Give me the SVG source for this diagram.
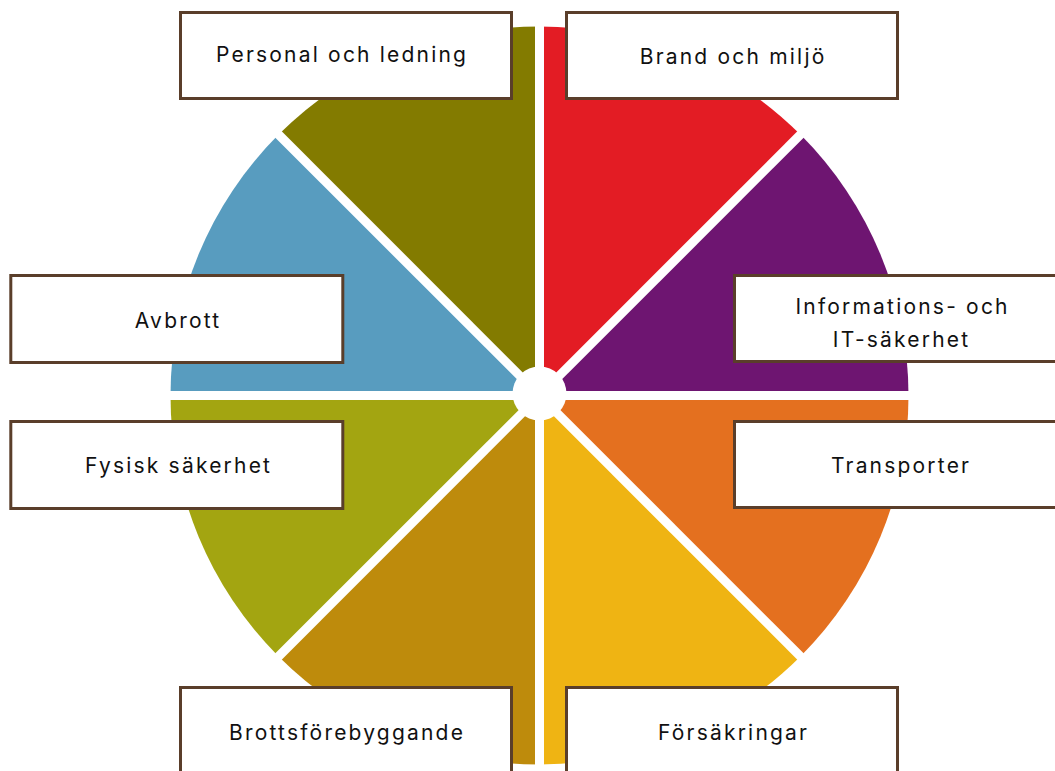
<svg xmlns="http://www.w3.org/2000/svg" width="1055" height="771" viewBox="0 0 1055 771">
<style>
.box{fill:#ffffff;stroke:#5a3e2a;stroke-width:3}
.lbl{font-family:Inter,"Liberation Sans",Arial,sans-serif;font-size:21px;letter-spacing:2.2px;fill:#111111;text-anchor:middle}
.sep{stroke:#ffffff;stroke-width:9;fill:none}
</style>
<rect width="1055" height="771" fill="#ffffff"/>
<g id="wheel">
<path id="s-brand" d="M539.5,395.5 L539.5,26.5 A369,369 0 0 1 800.4,134.6 Z" fill="#e31c24"/>
<path id="s-info" d="M539.5,395.5 L800.4,134.6 A369,369 0 0 1 908.5,395.5 Z" fill="#6e1571"/>
<path id="s-transport" d="M539.5,395.5 L908.5,395.5 A369,369 0 0 1 800.4,656.4 Z" fill="#e4701f"/>
<path id="s-forsakring" d="M539.5,395.5 L800.4,656.4 A369,369 0 0 1 539.5,764.5 Z" fill="#efb413"/>
<path id="s-brott" d="M539.5,395.5 L539.5,764.5 A369,369 0 0 1 278.6,656.4 Z" fill="#be8b0c"/>
<path id="s-fysisk" d="M539.5,395.5 L278.6,656.4 A369,369 0 0 1 170.5,395.5 Z" fill="#a3a511"/>
<path id="s-avbrott" d="M539.5,395.5 L170.5,395.5 A369,369 0 0 1 278.6,134.6 Z" fill="#589cbf"/>
<path id="s-personal" d="M539.5,395.5 L278.6,134.6 A369,369 0 0 1 539.5,26.5 Z" fill="#837b00"/>
</g>
<g id="separators">
<line class="sep" x1="539.5" y1="10" x2="539.5" y2="781"/>
<line class="sep" x1="155" y1="395.5" x2="924" y2="395.5"/>
<line class="sep" x1="266" y1="122" x2="813" y2="669"/>
<line class="sep" x1="813" y1="122" x2="266" y2="669"/>
<circle cx="539.5" cy="393.5" r="27" fill="#ffffff"/>
</g>
<g id="personal">
<rect class="box" x="180.5" y="12.5" width="331" height="86"/>
<text class="lbl" x="342.1" y="62">Personal och ledning</text>
</g>
<g id="brand">
<rect class="box" x="566.5" y="12.5" width="331" height="86"/>
<text class="lbl" x="733.1" y="64">Brand och miljö</text>
</g>
<g id="info">
<rect class="box" x="734.5" y="275.5" width="331" height="86"/>
<text class="lbl" x="902.6" y="314">Informations- och</text>
<text class="lbl" x="901.6" y="346.5">IT-säkerhet</text>
</g>
<g id="transporter">
<rect class="box" x="734.5" y="421.5" width="331" height="86"/>
<text class="lbl" x="901.1" y="473">Transporter</text>
</g>
<g id="avbrott">
<rect class="box" x="10.8" y="275.5" width="332" height="87"/>
<text class="lbl" x="178.1" y="328">Avbrott</text>
</g>
<g id="fysisk">
<rect class="box" x="10.8" y="421.5" width="332" height="87"/>
<text class="lbl" x="178.6" y="473">Fysisk säkerhet</text>
</g>
<g id="brottsforebyggande">
<rect class="box" x="180.5" y="687.5" width="331" height="90"/>
<text class="lbl" x="347.1" y="739.5">Brottsförebyggande</text>
</g>
<g id="forsakringar">
<rect class="box" x="566.5" y="687.5" width="331" height="90"/>
<text class="lbl" x="733.6" y="740">Försäkringar</text>
</g>
</svg>
